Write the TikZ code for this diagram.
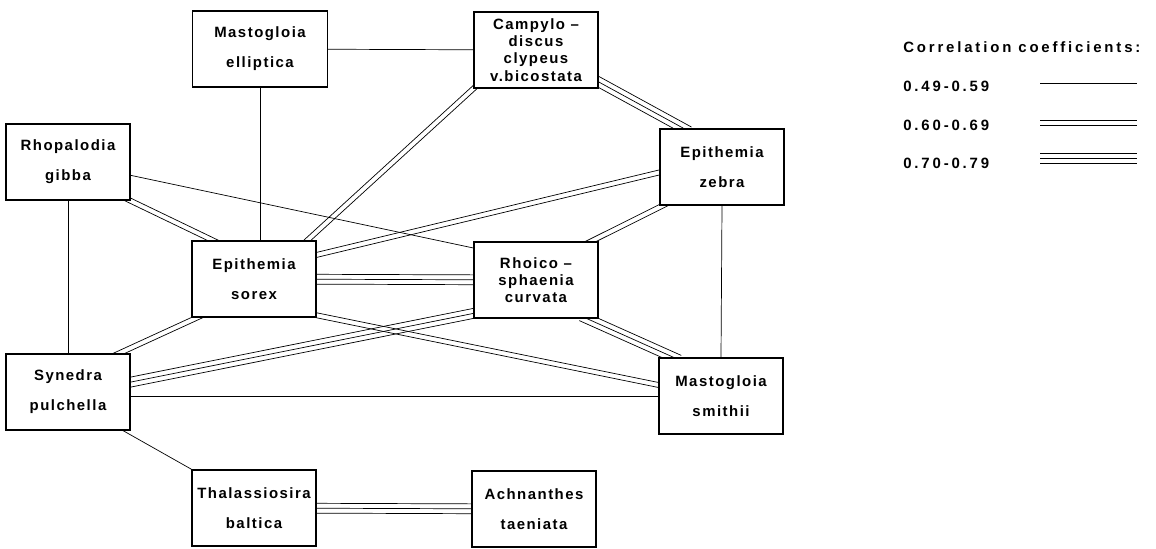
\documentclass[tikz,border=0pt]{standalone}
\usepackage{fontspec}
\usetikzlibrary{calc}
\newfontfamily\diafont[LetterSpace=10]{Liberation Sans}
\newfontfamily\legfont[LetterSpace=19]{Liberation Sans}
\pgfdeclarelayer{back}
\pgfsetlayers{back,main}
\tikzset{link/.style={shorten <=-4pt, shorten >=-4pt}}
% parallel lines between two points
\newcommand\dbl[3][link]{%
  \draw[#1] ($(#2)!1.4pt!90:(#3)$) -- ($(#3)!1.4pt!-90:(#2)$);
  \draw[#1] ($(#2)!1.4pt!-90:(#3)$) -- ($(#3)!1.4pt!90:(#2)$);}
\newcommand\trpl[3][link]{%
  \draw[#1] (#2) -- (#3);
  \draw[#1] ($(#2)!2.8pt!90:(#3)$) -- ($(#3)!2.8pt!-90:(#2)$);
  \draw[#1] ($(#2)!2.8pt!-90:(#3)$) -- ($(#3)!2.8pt!90:(#2)$);}
\begin{document}
\begin{tikzpicture}[x=0.02cm, y=-0.02cm, line width=0.65pt,
  box/.style={draw, fill=white, line width=1.1pt, minimum width=2.48cm, minimum height=1.52cm,
    inner sep=0pt, align=center, font=\diafont\bfseries\fontsize{8.5}{17}\selectfont},
  tight/.style={font=\diafont\bfseries\fontsize{8.5}{9.8}\selectfont},
  legtext/.style={anchor=base west, inner sep=0pt, font=\legfont\bfseries\fontsize{8.5}{10}\selectfont}]
\useasboundingbox (0,0) rectangle (1156,548);
% species
\node[box, minimum width=2.7cm] (mastell) at (260,49) {Mastogloia\\elliptica};
\node[box, tight] (campy) at (536,50) {Campylo –\\discus\\clypeus\\v.bicostata};
\node[box] (rhopal) at (68,162) {Rhopalodia\\gibba};
\node[box] (zebra) at (722,167) {Epithemia\\zebra};
\node[box] (sorex) at (254,279) {Epithemia\\sorex};
\node[box, tight] (rhoico) at (536,280) {Rhoico –\\sphaenia\\curvata};
\node[box] (synedra) at (68,392) {Synedra\\pulchella};
\node[box] (smithii) at (721,396) {Mastogloia\\smithii};
\node[box] (thal) at (254,508) {Thalassiosira\\baltica};
\node[box] (achn) at (534,509) {Achnanthes\\taeniata};
% correlations
\begin{pgfonlayer}{back}
\draw[link] (mastell) -- (campy);
\draw[link] (mastell.south) -- (mastell.south |- sorex.north);
\draw[link] (rhopal.south) -- (synedra.north);
\draw[link] (zebra.south) -- (smithii.north);
\draw[link] (rhopal.-12) -- (rhoico.153);
\draw[link] (smithii.west) -- (smithii.west -| synedra.east);
\draw[link] (synedra.-35) -- (thal.north west);
\dbl{campy.south west}{sorex.36}
\dbl{rhopal.south east}{sorex.137}
\dbl{zebra.185}{sorex.21}
\dbl{zebra.213}{rhoico.35}
\dbl{sorex.214}{synedra.37}
\dbl{sorex.-30}{smithii.170}
\trpl{campy.-27}{zebra.135}
\trpl{sorex}{rhoico}
\trpl{rhoico.208}{synedra.9}
\trpl{rhoico.-37}{smithii.141}
\trpl{thal}{achn}
\end{pgfonlayer}
% legend
\node[legtext] (legtitle) at (903,52.5) {Correlation coefficients:};
\node[legtext] (low) at (903,91.5) {0.49-0.59};
\node[legtext] (mid) at (903,130) {0.60-0.69};
\node[legtext] (high) at (903,168) {0.70-0.79};
\coordinate (la) at (1040,83);  \coordinate (lb) at (1137,83);
\coordinate (ma) at (1040,123); \coordinate (mb) at (1137,123);
\coordinate (ha) at (1040,158); \coordinate (hb) at (1137,158);
\draw (la) -- (lb);
\dbl[]{ma}{mb}
\trpl[]{ha}{hb}
\end{tikzpicture}
\end{document}
